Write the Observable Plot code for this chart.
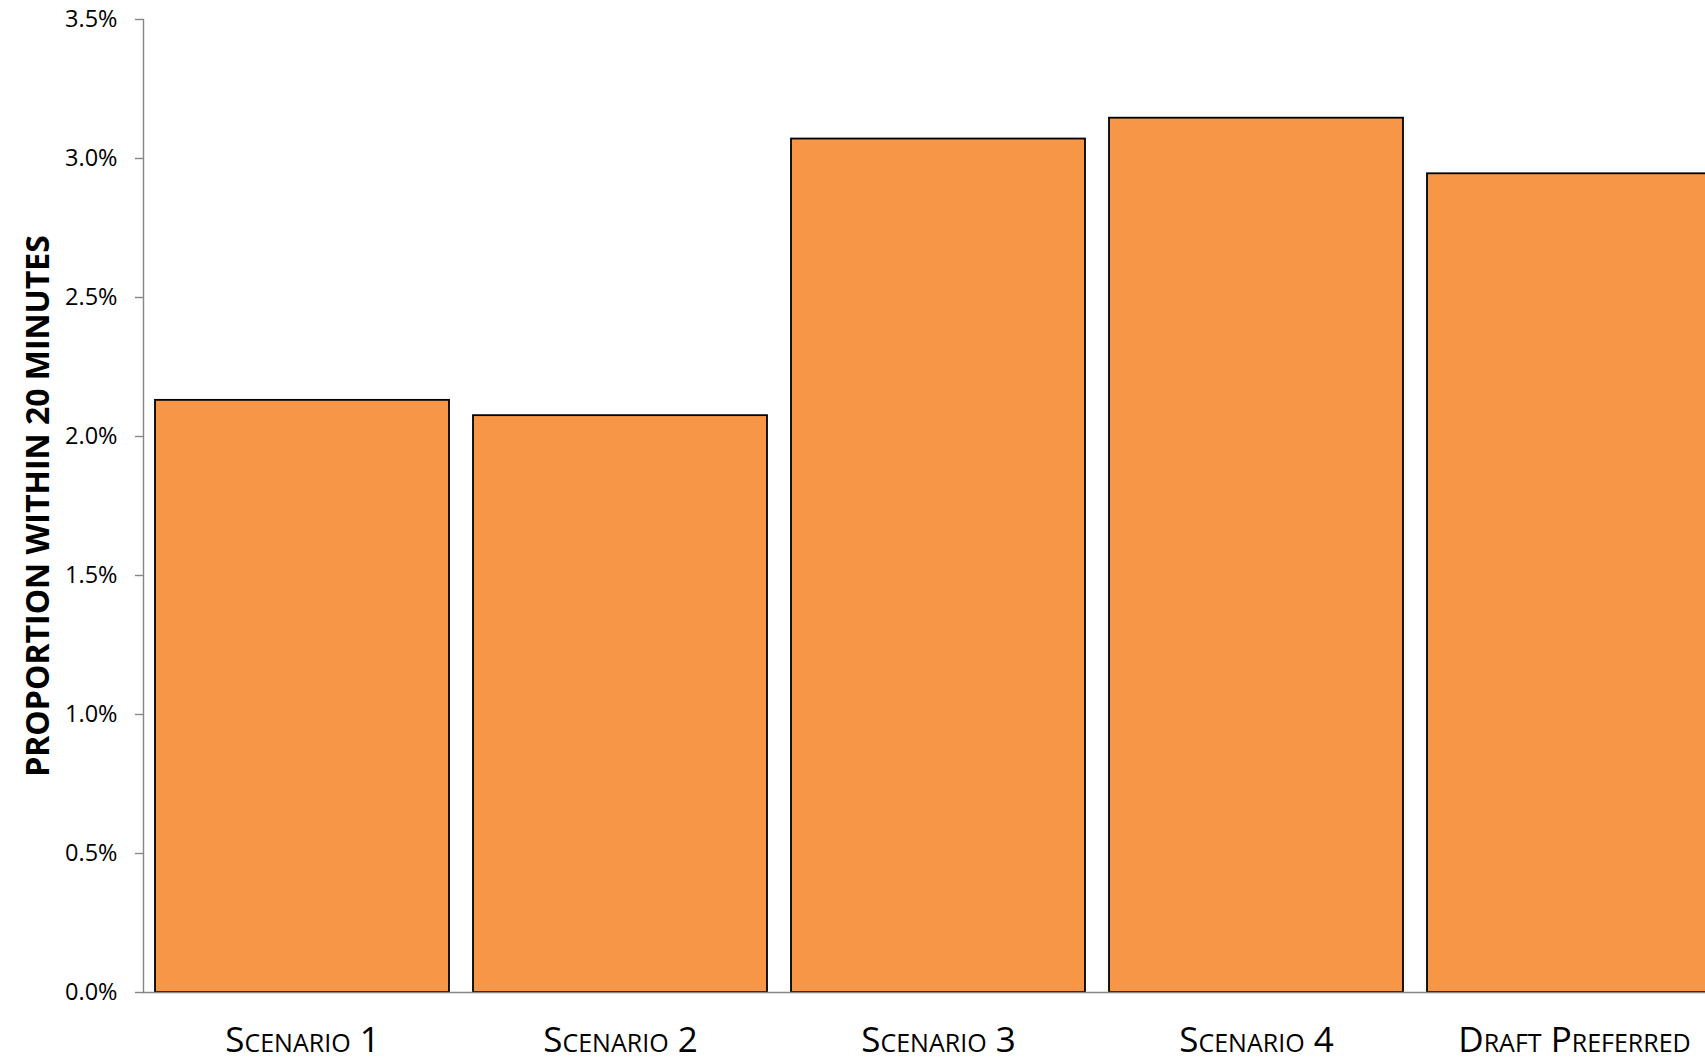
<!DOCTYPE html>
<html>
<head>
<meta charset="utf-8">
<script src="https://cdn.jsdelivr.net/npm/d3@7"></script>
<script src="https://cdn.jsdelivr.net/npm/@observablehq/plot@0.6"></script>
<style>
  html, body { margin: 0; padding: 0; background: #fff; overflow: hidden; }
  #chart { width: 1705px; height: 1057px; overflow: hidden; }
  #chart svg { max-width: none; display: block; }
</style>
</head>
<body>
<div id="chart"></div>
<script>
// Share of trips completed within 20 minutes, by scenario
const scenarios = ["Scenario 1", "Scenario 2", "Scenario 3", "Scenario 4", "Draft Preferred"];
const proportions = [2.13, 2.075, 3.07, 3.145, 2.945];
const yTicks = [0, 0.5, 1.0, 1.5, 2.0, 2.5, 3.0, 3.5];
const yTitle = "PROPORTION WITHIN 20 MINUTES";

const rows = scenarios.map((s, i) => ({scenario: s, value: proportions[i]}));

const axisGray = "#868686";

const chart = Plot.plot({
  width: 1733,
  height: 1057,
  marginLeft: 143,
  marginRight: 0,
  marginTop: 19,
  marginBottom: 65,
  style: {fontFamily: "'Open Sans', sans-serif", background: "#fff", color: "#000", maxWidth: "none"},
  x: {domain: scenarios, paddingInner: 0.0745, paddingOuter: 0.037, label: null},
  y: {domain: [0, 3.5], label: null},
  marks: [
    Plot.barY(rows, {x: "scenario", y: "value", fill: "#F79646", stroke: "#000", strokeWidth: 1.8}),
    Plot.axisY({
      ticks: yTicks,
      tickFormat: d => d.toFixed(1) + "%",
      tickSize: 8,
      tickPadding: 18,
      fontSize: 23.5,
      stroke: axisGray,
      strokeWidth: 1.4,
      fill: "#000",
      label: null
    }),
    Plot.axisX({
      tickSize: 0,
      tickPadding: 35,
      fontSize: 35,
      fontVariant: "small-caps",
      fill: "#000",
      label: null
    }),
    Plot.frame({anchor: "left", stroke: axisGray, strokeWidth: 1.4}),
    Plot.frame({anchor: "bottom", stroke: axisGray, strokeWidth: 1.4}),
    Plot.text([yTitle], {
      text: d => d,
      frameAnchor: "left",
      textAnchor: "middle",
      lineAnchor: "middle",
      rotate: -90,
      dx: -105,
      fontSize: 32,
      fontWeight: "bold",
      fill: "#000"
    })
  ]
});

document.getElementById("chart").appendChild(chart);
</script>
</body>
</html>
